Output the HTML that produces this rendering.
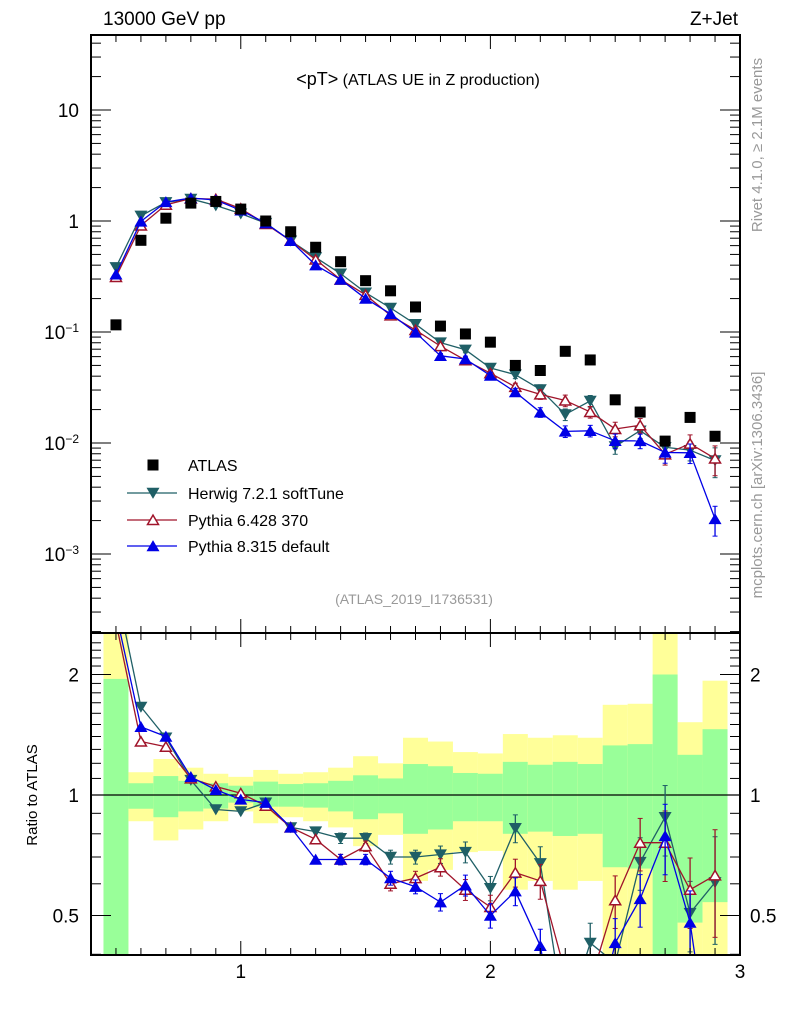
<!DOCTYPE html>
<html><head><meta charset="utf-8"><style>
html,body{margin:0;padding:0;background:#fff;width:786px;height:1024px;overflow:hidden}
svg{display:block;font-family:"Liberation Sans",sans-serif;overflow:hidden}
</style></head><body>
<svg id="c" width="786" height="1024" xmlns="http://www.w3.org/2000/svg">
<text x="103" y="25" font-size="19">13000 GeV pp</text>
<text x="738" y="25" font-size="19" text-anchor="end">Z+Jet</text>
<text x="418" y="85" text-anchor="middle"><tspan font-size="18">&lt;pT&gt;</tspan><tspan font-size="16"> (ATLAS UE in Z production)</tspan></text>
<text x="414" y="604" font-size="14" fill="#999" text-anchor="middle">(ATLAS_2019_I1736531)</text>
<text transform="translate(762,145) rotate(-90)" font-size="15" fill="#999" text-anchor="middle">Rivet 4.1.0, ≥ 2.1M events</text>
<text transform="translate(762,485) rotate(-90)" font-size="15" fill="#999" text-anchor="middle">mcplots.cern.ch [arXiv:1306.3436]</text>
<text transform="translate(37,795) rotate(-90)" font-size="15" text-anchor="middle">Ratio to ATLAS</text>
<g id="bands"></g><g id="marks"></g><g id="axes"></g><g id="legend"></g>
</svg>
<script>
const xs=[0.5,0.6,0.7,0.8,0.9,1.0,1.1,1.2,1.3,1.4,1.5,1.6,1.7,1.8,1.9,2.0,2.1,2.2,2.3,2.4,2.5,2.6,2.7,2.8,2.9];
const atlas=[0.116,0.67,1.06,1.45,1.5,1.28,1.0,0.80,0.58,0.43,0.29,0.235,0.168,0.113,0.096,0.081,0.050,0.045,0.067,0.056,0.0245,0.019,0.0104,0.017,0.0115];
const herwigRatio=[3.3,1.66,1.39,1.09,0.92,0.91,0.957,0.83,0.81,0.78,0.78,0.70,0.70,0.71,0.72,0.585,0.826,0.675,0.27,0.427,0.38,0.68,0.88,0.507,0.605];
const py6Ratio=[2.7,1.36,1.32,1.10,1.05,1.01,0.94,0.83,0.775,0.69,0.745,0.60,0.62,0.66,0.58,0.525,0.64,0.61,0.36,0.34,0.546,0.76,0.76,0.58,0.63];
const py8Ratio=[2.85,1.48,1.40,1.11,1.03,0.975,0.957,0.83,0.69,0.69,0.69,0.62,0.59,0.54,0.595,0.50,0.575,0.42,0.19,0.23,0.427,0.55,0.79,0.48,0.18];
const mcRelErr=[0.01,0.01,0.01,0.01,0.01,0.01,0.015,0.02,0.02,0.03,0.03,0.04,0.04,0.05,0.06,0.07,0.08,0.1,0.12,0.12,0.15,0.15,0.2,0.2,0.3];
const greenUp=[1.95,1.07,1.115,1.085,1.07,1.055,1.08,1.065,1.07,1.085,1.12,1.10,1.195,1.18,1.135,1.13,1.21,1.19,1.21,1.195,1.33,1.34,2.0,1.26,1.46];
const greenDn=[0.2,0.924,0.88,0.91,0.925,0.957,0.935,0.935,0.93,0.91,0.87,0.90,0.80,0.82,0.86,0.86,0.80,0.81,0.79,0.80,0.66,0.655,0.2,0.48,0.54];
const yellowUp=[3.0,1.14,1.23,1.17,1.13,1.11,1.155,1.13,1.14,1.17,1.25,1.2,1.39,1.36,1.28,1.27,1.42,1.39,1.41,1.39,1.68,1.69,3.0,1.52,1.93];
const yellowDn=[0.2,0.86,0.77,0.82,0.86,0.91,0.85,0.88,0.86,0.83,0.745,0.795,0.61,0.65,0.72,0.725,0.58,0.61,0.58,0.61,0.2,0.2,0.2,0.2,0.2];
const ratioTicks=[2,1,0.5];const ratioTickLabels=["2","1","0.5"];
const mainTicks=[10,1,0.1,0.01,0.001];
const xTicks=[1,2,3];

const NS="http://www.w3.org/2000/svg";
const L=91,R=740,T=35,M=633,B=955;
const X=v=>L+(v-0.4)/(3.0-0.4)*(R-L);
const Ym=v=>221-111*Math.log10(v);
const Yr=v=>795-120.5*Math.log2(v);
const clampY=(y,lo,hi)=>Math.max(lo,Math.min(hi,y));
function mk(p,tag,a){const e=document.createElementNS(NS,tag);for(const k in a)e.setAttribute(k,a[k]);p.appendChild(e);return e;}
const bands=document.getElementById('bands'),marks=document.getElementById('marks'),axes=document.getElementById('axes'),leg=document.getElementById('legend');
const bg=mk(bands,'g',{});
xs.forEach((x,i)=>{
  const x0=X(x-0.05),x1=X(x+0.05);
  let yu=clampY(Yr(yellowUp[i]),M,B),yd=clampY(Yr(yellowDn[i]),M,B);
  let r=mk(bg,'rect',{x:x0,y:yu,width:x1-x0,height:yd-yu,fill:'#ffff99'});
  
  yu=clampY(Yr(greenUp[i]),M,B);yd=clampY(Yr(greenDn[i]),M,B);
  r=mk(bg,'rect',{x:x0,y:yu,width:x1-x0,height:yd-yu,fill:'#99ff99'});
  
});
mk(bg,'line',{x1:L,x2:R,y1:Yr(1),y2:Yr(1),stroke:'#000','stroke-width':1.3});
function marker(g,cx,cy,type,col,s){
  if(type==='sq')return mk(g,'rect',{x:cx-5.5,y:cy-5.5,width:11,height:11,fill:'#000'});
  if(type==='down')return mk(g,'path',{d:`M${cx-s},${cy-s*0.8}L${cx+s},${cy-s*0.8}L${cx},${cy+s*0.9}Z`,fill:col});
  if(type==='up')return mk(g,'path',{d:`M${cx-s},${cy+s*0.8}L${cx+s},${cy+s*0.8}L${cx},${cy-s*0.9}Z`,fill:col});
  return mk(g,'path',{d:`M${cx-s+1},${cy+s*0.8-0.7}L${cx+s-1},${cy+s*0.8-0.7}L${cx},${cy-s*0.9+1}Z`,fill:'#fff',stroke:col,'stroke-width':1.5});
}
function clipSeg(x1,y1,x2,y2,lo,hi){
  if((y1<lo&&y2<lo)||(y1>hi&&y2>hi))return null;
  const f=(y)=>x1+(x2-x1)*(y-y1)/(y2-y1);
  if(y1<lo){x1=f(lo);y1=lo;} else if(y1>hi){x1=f(hi);y1=hi;}
  if(y2<lo){x2=x1+(x2-x1)*(lo-y1)/(y2-y1);y2=lo;} else if(y2>hi){x2=x1+(x2-x1)*(hi-y1)/(y2-y1);y2=hi;}
  return [x1,y1,x2,y2];
}
const series=[
 {name:'herwig',r:herwigRatio,col:'#1f5f66',type:'down'},
 {name:'pythia6',r:py6Ratio,col:'#a0142a',type:'open'},
 {name:'pythia8',r:py8Ratio,col:'#0000e6',type:'up'}];
const gm=mk(marks,'g',{}),gr=mk(marks,'g',{});
series.forEach(s=>{
  [[gm,(i)=>atlas[i]*s.r[i],Ym,T,M],[gr,(i)=>s.r[i],Yr,M,B]].forEach(([g,val,Y,lo,hi])=>{
    const lg=mk(g,'g',{});
    
    
    for(let i=0;i<xs.length-1;i++){
      const c=clipSeg(X(xs[i]),Y(val(i)),X(xs[i+1]),Y(val(i+1)),lo,hi);
      if(c)mk(lg,'line',{x1:c[0],y1:c[1],x2:c[2],y2:c[3],stroke:s.col,'stroke-width':1.3});
    }
    xs.forEach((x,i)=>{
      const v=val(i),e=mcRelErr[i],y=Y(v);
      if(y<lo||y>hi)return;
      if(e>0.025){const yt=clampY(Y(v*(1+e)),lo,hi),yb=clampY(Y(v*(1-e)),lo,hi);
        mk(g,'line',{x1:X(x),x2:X(x),y1:yt,y2:yb,stroke:s.col,'stroke-width':1.3});
        mk(g,'line',{x1:X(x)-2.5,x2:X(x)+2.5,y1:yt,y2:yt,stroke:s.col});
        mk(g,'line',{x1:X(x)-2.5,x2:X(x)+2.5,y1:yb,y2:yb,stroke:s.col});}
      const m=marker(g,X(x),y,s.type,s.col,6.5);
      
    });
  });
});
xs.forEach((x,i)=>{const m=marker(gm,X(x),Ym(atlas[i]),'sq');
  });
function ln(x1,y1,x2,y2,w){mk(axes,'line',{x1,y1,x2,y2,stroke:'#000','stroke-width':w||1});}
mk(axes,'rect',{x:L,y:T,width:R-L,height:M-T,fill:'none',stroke:'#000','stroke-width':2});
mk(axes,'rect',{x:L,y:M,width:R-L,height:B-M,fill:'none',stroke:'#000','stroke-width':2});
for(let k=5;k<=29;k++){const v=k/10,x=X(v),big=(k%10===0),h=big?14:7;
  [T,M].forEach(y=>ln(x,y,x,y+h));[M,B].forEach(y=>ln(x,y,x,y-h));}
xTicks.forEach(v=>{const t=mk(axes,'text',{x:X(v),y:978,'font-size':19,'text-anchor':'middle'});t.textContent=v;
  });
const mainLabels=["10","1","10<tspan baseline-shift='super' font-size='12'>−1</tspan>","10<tspan baseline-shift='super' font-size='12'>−2</tspan>","10<tspan baseline-shift='super' font-size='12'>−3</tspan>"];
for(let d=-4;d<=1;d++)for(let m=1;m<10;m++){const v=m*Math.pow(10,d),y=Ym(v);if(y<T||y>M)continue;
  const h=m===1?20:10;ln(L,y,L+h,y);ln(R,y,R-h,y);}
mainTicks.forEach((v,i)=>{const t=mk(axes,'text',{x:79,y:Ym(v)+7,'font-size':19,'text-anchor':'end'});t.innerHTML=mainLabels[i];
  });
for(let v=0.4;v<=2.5;v+=0.1){const y=Yr(v);if(y<M||y>B)continue;
  const maj=ratioTicks.some(t=>Math.abs(t-v)<1e-6);const h=maj?20:10;ln(L,y,L+h,y);ln(R,y,R-h,y);}
ratioTicks.forEach((v,i)=>{[[79,'end'],[750,'start']].forEach(([x,a])=>{
  const t=mk(axes,'text',{x:x,y:Yr(v)+7,'font-size':19,'text-anchor':a});t.textContent=ratioTickLabels[i];
  });});
const lgd=[['ATLAS',null,'sq',465],['Herwig 7.2.1 softTune','#1f5f66','down',493],['Pythia 6.428 370','#a0142a','open',520],['Pythia 8.315 default','#0000e6','up',546]];
lgd.forEach(([n,c,t,y])=>{const g=mk(leg,'g',{});
  
  if(c)mk(g,'line',{x1:127,x2:177,y1:y,y2:y,stroke:c,'stroke-width':1.3});
  marker(g,153,y,t,c,6.5);
  const tx=mk(g,'text',{x:188,y:y+6,'font-size':16});tx.textContent=n;});
</script>
</body></html>
